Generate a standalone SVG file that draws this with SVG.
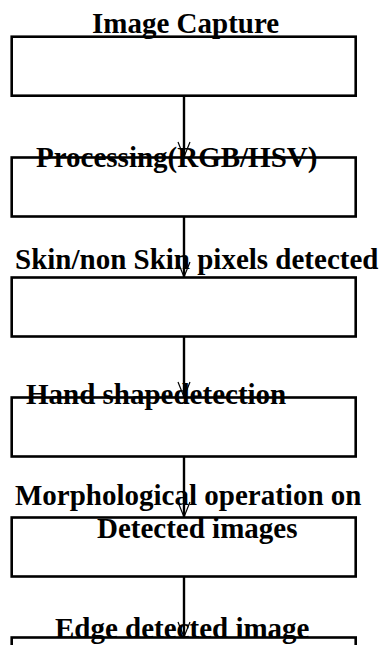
<svg xmlns="http://www.w3.org/2000/svg" width="384" height="645" viewBox="0 0 384 645">
<style>
.box{fill:none;stroke:#000;stroke-width:2.6}
.lbl{font-family:"Liberation Serif","Times New Roman",serif;font-weight:bold;font-size:29px;fill:#000}
.conn{stroke:#000;stroke-width:2.4;fill:none}
.ah{stroke:#000;stroke-width:1.2;fill:none}
</style>
<rect width="384" height="645" fill="#fff"/>
<g id="connectors">
<line class="conn" x1="184" y1="96" x2="184" y2="157"/>
<path class="ah" d="M178,142 L184,157 L190,142"/>
<line class="conn" x1="184" y1="217" x2="184" y2="277"/>
<path class="ah" d="M178,262 L184,277 L190,262"/>
<line class="conn" x1="184" y1="337" x2="184" y2="397"/>
<path class="ah" d="M178,382 L184,397 L190,382"/>
<line class="conn" x1="184" y1="457" x2="184" y2="517"/>
<path class="ah" d="M178,502 L184,517 L190,502"/>
<line class="conn" x1="184" y1="577" x2="184" y2="637"/>
<path class="ah" d="M178,622 L184,637 L190,622"/>
</g>
<g id="n1">
<rect class="box" x="11.7" y="36.7" width="344" height="59"/>
<text class="lbl" x="92" y="33">Image Capture</text>
</g>
<g id="n2">
<rect class="box" x="11.7" y="157.5" width="344" height="59"/>
<text class="lbl" x="36" y="167">Processing(RGB/HSV)</text>
</g>
<g id="n3">
<rect class="box" x="11.7" y="277.5" width="344" height="59"/>
<text class="lbl" x="15" y="269">Skin/non Skin pixels detected</text>
</g>
<g id="n4">
<rect class="box" x="11.7" y="397.5" width="344" height="59"/>
<text class="lbl" x="26" y="404">Hand shapedetection</text>
</g>
<g id="n5">
<rect class="box" x="11.7" y="517.5" width="344" height="59"/>
<text class="lbl" x="15" y="505">Morphological operation on</text>
<text class="lbl" x="97" y="538">Detected images</text>
</g>
<g id="n6">
<rect class="box" x="11.7" y="637.5" width="344" height="59"/>
<text class="lbl" x="55" y="638">Edge detected image</text>
</g>
</svg>
